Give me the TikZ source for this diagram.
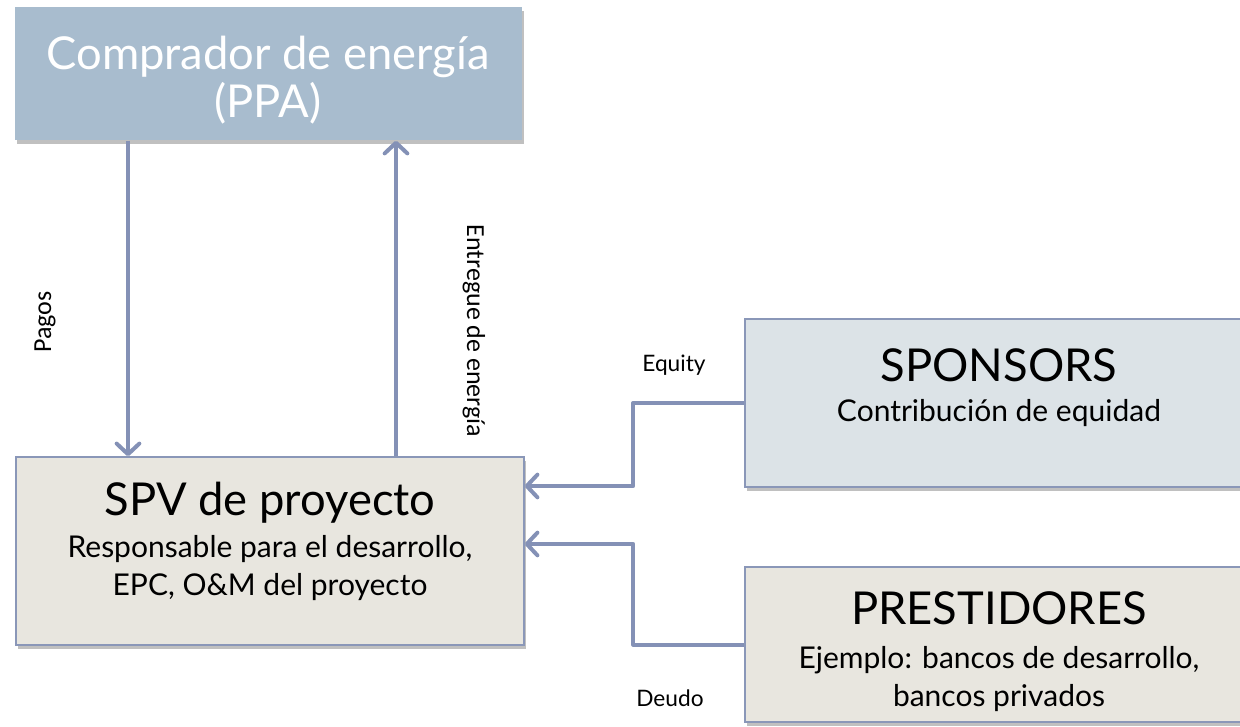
\documentclass[tikz,border=0pt]{standalone}
\usepackage{fontspec}
\setmainfont{Lato}
\newfontfamily\calibri{Carlito}
\usetikzlibrary{arrows.meta,shadows,positioning}
\definecolor{buyerblue}{HTML}{A8BCCE}
\definecolor{sandgrey}{HTML}{E8E6DF}
\definecolor{paleblue}{HTML}{DCE3E7}
\definecolor{edgeblue}{HTML}{8A97B8}
\definecolor{flowblue}{HTML}{8491B6}

\begin{document}
\begin{tikzpicture}[x=0.75pt,y=-0.75pt,
    box/.style={draw=edgeblue,line width=1.1pt,inner sep=0pt,
        drop shadow={shadow xshift=1.5pt,shadow yshift=-3pt,opacity=0.35,fill=black!70}},
    head/.style={inner sep=0pt,font=\fontsize{34}{36}\selectfont},
    sub/.style={inner sep=0pt,align=center,font=\fontsize{22.5}{28}\selectfont},
    tag/.style={inner sep=0pt,font=\fontsize{17}{20}\selectfont},
    side/.style={inner sep=0pt,font=\calibri\fontsize{19.5}{22}\selectfont},
    flow/.style={draw=flowblue,line width=3pt,line join=round,
        -{Straight Barb[length=8pt,width=17pt,line cap=round,line join=round]}}]
    \fill[white] (0,0) rectangle (1240,727);
    \path[use as bounding box] (0,0) rectangle (1240,727);
    \clip (0,0) rectangle (1240,727);

    % boxes
    \node[box,draw=none,fill=buyerblue,minimum width=507*0.75pt,minimum height=133*0.75pt] (buyer) at (268.5,73.5) {};
    \node[box,fill=sandgrey,minimum width=508*0.75pt,minimum height=188*0.75pt] (spv) at (270,551) {};
    \node[box,fill=paleblue,minimum width=508*0.75pt,minimum height=168*0.75pt] (sponsors) at (999,403) {};
    \node[box,fill=sandgrey,minimum width=508*0.75pt,minimum height=155*0.75pt] (lenders) at (999,644.5) {};

    % texts
    \node[head,align=center,text=white] (buyert) at (268,80) {Comprador de energía\\(PPA)};
    \node[head] (spvt) at (270,503) {SPV de proyecto};
    \node[sub] (spvs) at (270,568) {Responsable para el desarrollo,\\EPC, O\&M del proyecto};
    \node[head] (sponsorst) at (999,365) {SPONSORS};
    \node[sub] (sponsorss) at (999,413) {Contribución de equidad};
    \node[head] (lenderst) at (999,608) {PRESTIDORES};
    \node[sub] (lenderss) at (999,679) {Ejemplo: bancos de desarrollo,\\bancos privados};

    % flows
    \draw[flow] ([shift={(-140.5,0)}]buyer.south) -- ([shift={(-140.5,0)}]buyer.south |- spv.north);
    \draw[flow] ([shift={(126,0)}]spv.north) -- ([shift={(126,0)}]spv.north |- buyer.south);
    \draw[flow] (sponsors.west) -- ++(-111,0) |- ([shift={(0,-65)}]spv.east);
    \draw[flow] (lenders.west) -- ++(-111,0) |- ([shift={(0,-7)}]spv.east);

    \node[side,rotate=90] (pagos) at (45,322) {Pagos};
    \node[side,rotate=-90] (entregue) at (474,331) {Entregue de energía};
    \node[tag] (equity) at (674,365) {Equity};
    \node[tag] (deudo) at (670,698) {Deudo};
\end{tikzpicture}
\end{document}
